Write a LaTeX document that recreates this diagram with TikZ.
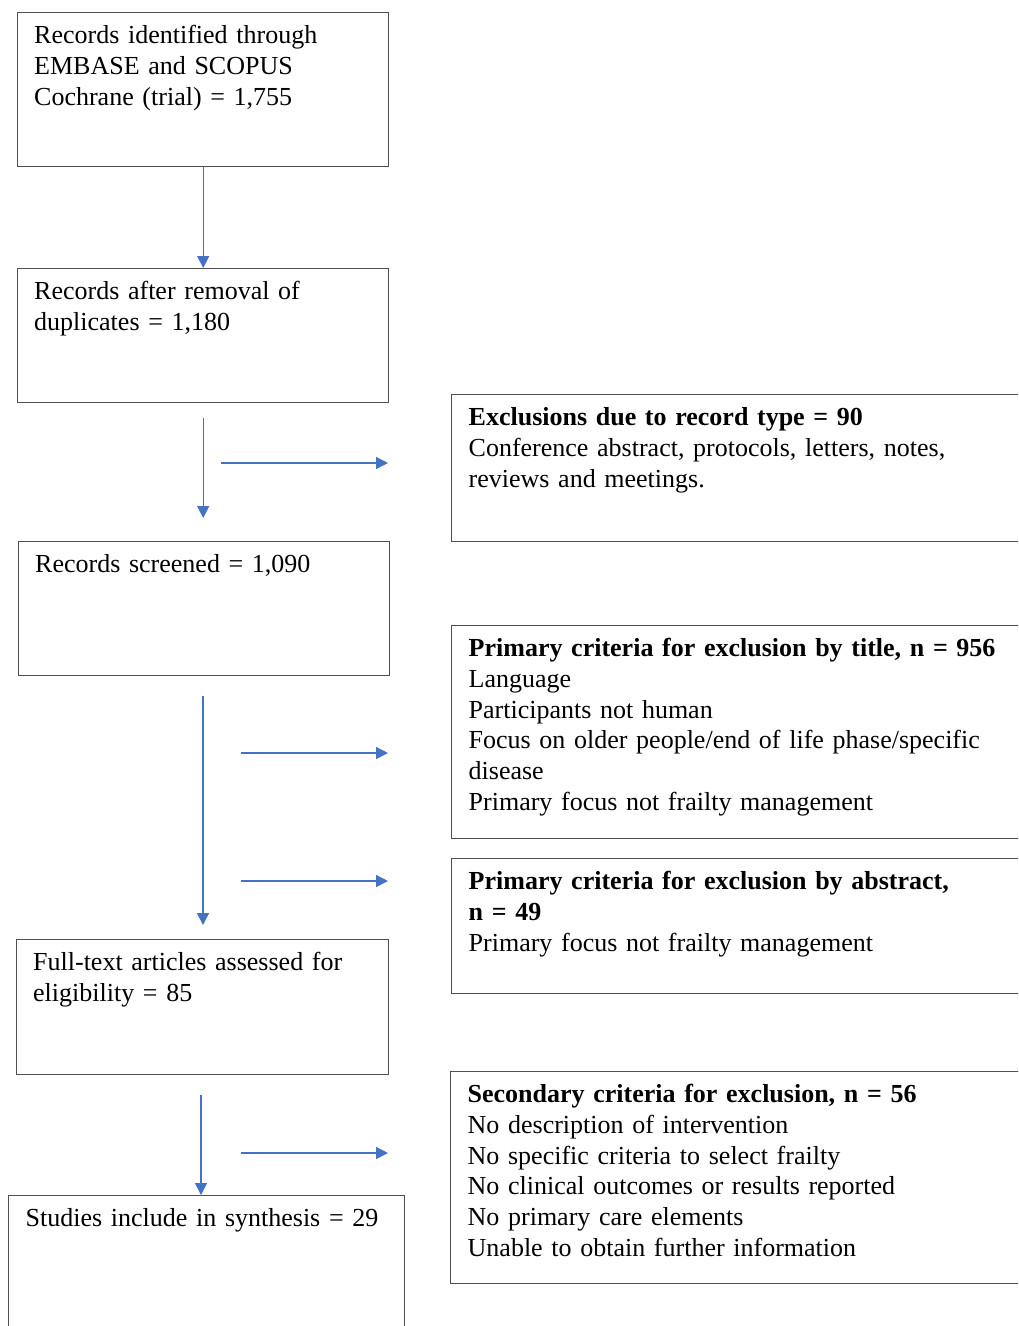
\documentclass[tikz,border=0pt]{standalone}
\usepackage{fontspec}
\setmainfont{Liberation Serif}
\usetikzlibrary{arrows.meta,positioning}
\definecolor{boxgray}{RGB}{80,80,80}
\definecolor{arrowblue}{RGB}{68,114,196}

\begin{document}
\begin{tikzpicture}[x=1pt,y=1pt,
    flowbox/.style={draw=boxgray, line width=1.4pt, anchor=north west, inner sep=0pt},
    intext/.style={anchor=base west, inner sep=0pt, align=left, text width=600pt,
        font=\fontsize{26}{30.8}\selectfont},
    arr/.style={color=arrowblue, line width=1.3pt, -{Triangle[length=12pt,width=12pt]}}]
    % Page frame
    \useasboundingbox (0,0) rectangle (1018,-1326);
    \fill[white] (0,0) rectangle (1018,-1326);
    \clip (0,0) rectangle (1018,-1326);

    % Main flow boxes
    \node[flowbox, minimum width=371pt, minimum height=154pt] (ident) at (17,-12) {};
    \node[below right=31.5pt and 17pt of ident.north west, intext] (ident-txt)
        {Records identified through\\EMBASE and SCOPUS\\Cochrane (trial) = 1,755};

    \node[flowbox, minimum width=371pt, minimum height=134pt] (dedup) at (17,-268) {};
    \node[below right=31.5pt and 17pt of dedup.north west, intext] (dedup-txt)
        {Records after removal of\\duplicates = 1,180};

    \node[flowbox, minimum width=371pt, minimum height=134pt] (screen) at (18,-541) {};
    \node[below right=31.5pt and 17pt of screen.north west, intext] (screen-txt)
        {Records screened = 1,090};

    \node[flowbox, minimum width=372pt, minimum height=135pt] (full) at (16,-939) {};
    \node[below right=31.5pt and 17pt of full.north west, intext] (full-txt)
        {Full-text articles assessed for\\eligibility = 85};

    \node[flowbox, minimum width=396pt, minimum height=200pt] (incl) at (8,-1195) {};
    \node[below right=31.5pt and 17.5pt of incl.north west, intext] (incl-txt)
        {Studies include in synthesis = 29};

    % Exclusion boxes (cut by the right edge)
    \node[flowbox, minimum width=620pt, minimum height=147pt] (type) at (451,-394) {};
    \node[below right=31.5pt and 17.5pt of type.north west, intext] (type-txt)
        {\textbf{Exclusions due to record type = 90}\\
         Conference abstract, protocols, letters, notes,\\
         reviews and meetings.};

    \node[flowbox, minimum width=620pt, minimum height=213pt] (title) at (451,-625) {};
    \node[below right=31.5pt and 17.5pt of title.north west, intext] (title-txt)
        {\textbf{Primary criteria for exclusion by title, n = 956}\\
         Language\\
         Participants not human\\
         Focus on older people/end of life phase/specific\\
         disease\\
         Primary focus not frailty management};

    \node[flowbox, minimum width=620pt, minimum height=135pt] (abstr) at (451,-858) {};
    \node[below right=31.5pt and 17.5pt of abstr.north west, intext] (abstr-txt)
        {\textbf{Primary criteria for exclusion by abstract,}\\
         \textbf{n = 49}\\
         Primary focus not frailty management};

    \node[flowbox, minimum width=620pt, minimum height=212pt] (second) at (450,-1071) {};
    \node[below right=31.5pt and 17.5pt of second.north west, intext] (second-txt)
        {\textbf{Secondary criteria for exclusion, n = 56}\\
         No description of intervention\\
         No specific criteria to select frailty\\
         No clinical outcomes or results reported\\
         No primary care elements\\
         Unable to obtain further information};

    % Free ends of the arrows
    \coordinate[below=15pt of dedup] (dedup-out);
    \coordinate[above=23pt of screen] (screen-in);
    \coordinate (screen-out) at (203,-696);
    \coordinate (full-in) at (203,-925);
    \coordinate (full-out) at (201,-1095);
    \coordinate (type-from) at (221,-463);
    \coordinate (type-to) at (388,-463);
    \coordinate (title-from) at (241,-753);
    \coordinate (title-to) at (388,-753);
    \coordinate (abstr-from) at (241,-881);
    \coordinate (abstr-to) at (388,-881);
    \coordinate (second-from) at (241,-1153);
    \coordinate (second-to) at (388,-1153);

    % Draw vertical arrows
    \draw[arr] (ident) -- (dedup);
    \draw[arr] (dedup-out) -- (dedup-out |- screen-in);
    \draw[arr] (screen-out) -- (full-in);
    \draw[arr] (full-out) -- (full-out |- incl.north);

    % Draw side arrows
    \draw[arr] (type-from) -- (type-to);
    \draw[arr] (title-from) -- (title-to);
    \draw[arr] (abstr-from) -- (abstr-to);
    \draw[arr] (second-from) -- (second-to);
\end{tikzpicture}
\end{document}
